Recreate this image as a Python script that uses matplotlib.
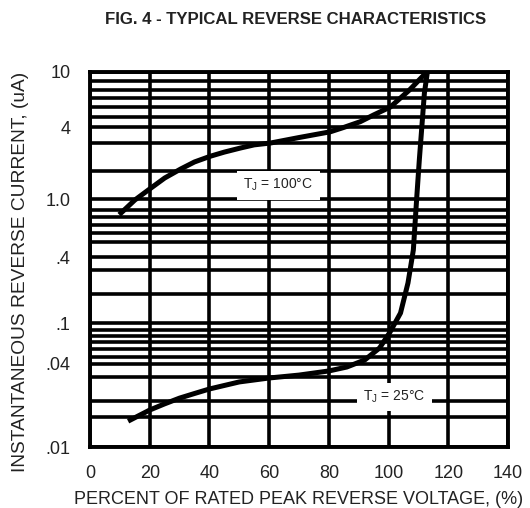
import matplotlib
matplotlib.use("Agg")
import matplotlib.pyplot as plt
from matplotlib.scale import FuncScale
import numpy as np

plt.rcParams['font.family'] = ['Liberation Sans', 'DejaVu Sans']

# data
pct_100 = [10.4, 15, 20.4, 25, 30.4, 35, 40.4, 45, 50.4, 55, 60.5, 70.0,
           80.5, 85, 90.5, 95, 100.6, 107.0, 112.8]
cur_100 = [0.856, 0.99, 1.31, 1.68, 2.06, 2.28, 2.48, 2.63, 2.79, 2.92,
           3.0, 3.31, 3.67, 3.97, 4.5, 5.19, 6.0, 8.0, 10.0]

pct_25 = [13.5, 20, 25, 30, 35, 40, 50, 60, 70, 80, 86, 92, 97, 100.5,
          104, 106.5, 108.3, 109.4, 110.3, 112, 113]
cur_25 = [0.0144, 0.017, 0.019, 0.021, 0.0227, 0.0245, 0.0276, 0.0295,
          0.0313, 0.0343, 0.0374, 0.0454, 0.0614, 0.0865, 0.127, 0.241,
          0.444, 1.0, 2.35, 7.6, 10.0]

x_ticks = [0, 20, 40, 60, 80, 100, 120, 140]
grid_vals = [0.01, 0.015, 0.02, 0.03, 0.04, 0.05, 0.06, 0.07, 0.08, 0.09,
             0.1, 0.2, 0.3, 0.4, 0.5, 0.6, 0.7, 0.8, 0.9,
             1, 2, 3, 4, 5, 6, 7, 8, 9, 10]
y_labels = {0.01: '.01', 0.04: '.04', 0.1: '.1', 0.4: '.4',
            1: '1.0', 4: '4', 10: '10'}

# the printed log grid is hand drawn, so calibrate the scale on it
knot_vals = [1e-3] + grid_vals + [100]
knot_pos = [-125, 0, 30, 46, 70, 83, 90, 98, 105, 111, 117,
            124, 153, 177, 190, 205, 214, 222, 230, 237,
            248, 276, 304, 320, 330, 340, 349, 357, 366, 375, 500]
lk = np.log10(knot_vals)


def fwd(v):
    v = np.clip(np.asarray(v, dtype=float), 1e-6, None)
    return np.interp(np.log10(v), lk, knot_pos)


def inv(p):
    return 10 ** np.interp(p, knot_pos, lk)


ink = '#222222'
fig = plt.figure(figsize=(5.3, 5.08), dpi=100)
ax = fig.add_axes([90 / 530, 61 / 508, 418 / 530, 375 / 508])
ax.set_yscale(FuncScale(ax.yaxis, (fwd, inv)))
ax.set_xlim(0, 140)
ax.set_ylim(0.01, 10)

ax.set_xticks(x_ticks)
ax.set_yticks(grid_vals)
ax.set_yticklabels([y_labels.get(v, '') for v in grid_vals])
ax.minorticks_off()
ax.tick_params(length=0, labelsize=13, colors=ink)
ax.tick_params(axis='y', pad=14)
ax.tick_params(axis='x', pad=13)
ax.grid(True, color='black', linewidth=2.6)
ax.set_axisbelow(True)
for s in ax.spines.values():
    s.set_linewidth(2.8)

ax.plot(pct_100, cur_100, color='black', linewidth=3.6, zorder=4)
ax.plot(pct_25, cur_25, color='black', linewidth=3.6, zorder=4)

box = dict(boxstyle='square,pad=0.45', facecolor='white', edgecolor='none')
ax.text(63.1, 1.41, 'T$_\\mathregular{J}$ = 100°C', fontsize=10, color=ink,
        ha='center', va='center', bbox=box, zorder=3)
ax.text(101.9, 0.0214, 'T$_\\mathregular{J}$ = 25°C', fontsize=10, color=ink,
        ha='center', va='center', bbox=box, zorder=3)

fig.text(296 / 530, 1 - 19.5 / 508, 'FIG. 4 - TYPICAL REVERSE CHARACTERISTICS',
         fontsize=12.1, fontweight='bold', color=ink, ha='center', va='center')
fig.text(299 / 530, 8 / 508, 'PERCENT OF RATED PEAK REVERSE VOLTAGE, (%)',
         fontsize=13, color=ink, ha='center', va='center')
fig.text(20.5 / 530, 1 - 272 / 508, 'INSTANTANEOUS REVERSE CURRENT, (uA)',
         fontsize=13.8, color=ink, ha='center', va='center', rotation=90)

fig.savefig('out.png', dpi=100)
